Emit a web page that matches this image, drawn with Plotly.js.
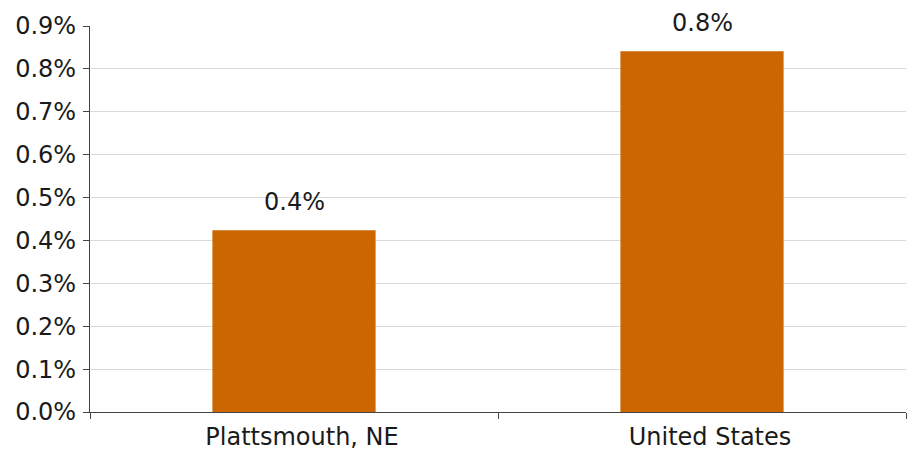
<!DOCTYPE html>
<html>
<head>
<meta charset="utf-8">
<script src="https://cdn.plot.ly/plotly-3.0.1.min.js"></script>
<style>html,body{margin:0;padding:0;background:#fff;}#chart{width:912px;height:450px;}</style>
</head>
<body>
<div id="chart"></div>
<script>
const categories = ["Plattsmouth, NE", "United States"];
const values = [0.424, 0.841];
const labels = ["0.4%", "0.8%"];
const yTickVals = [0, 0.1, 0.2, 0.3, 0.4, 0.5, 0.6, 0.7, 0.8, 0.9];

const font = {family: "DejaVu Sans", size: 24, color: "#1a1a1a"};

const data = [{
  type: "bar",
  x: categories,
  y: values,
  width: 0.4,
  marker: {color: "#CC6600", line: {width: 0}},
  hoverinfo: "none"
}];

const annotations = categories.map((c, i) => ({
  x: c, y: values[i], xref: "x", yref: "y",
  text: labels[i], showarrow: false,
  yanchor: "bottom", yshift: 12,
  font: font
}));

const layout = {
  width: 912, height: 450,
  margin: {l: 90, r: 6, t: 26, b: 38},
  paper_bgcolor: "#fff", plot_bgcolor: "#fff",
  font: font,
  showlegend: false,
  xaxis: {
    type: "category",
    tickson: "boundaries",
    ticks: "outside", ticklen: 6, tickcolor: "#444", tickwidth: 1,
    showline: true, linecolor: "#444", linewidth: 1,
    showgrid: false,
    ticklabelstandoff: 3,
    ticklabelshift: 8,
    tickfont: font
  },
  yaxis: {
    range: [0, 0.9],
    tickvals: yTickVals,
    ticktext: yTickVals.map(v => v.toFixed(1) + "%"),
    ticks: "outside", ticklen: 6, tickcolor: "#444", tickwidth: 1,
    showline: true, linecolor: "#444", linewidth: 1,
    showgrid: true, gridcolor: "#d9d9d9", gridwidth: 1,
    zeroline: false,
    ticklabelstandoff: 2,
    tickfont: font
  },
  annotations: annotations
};

Plotly.newPlot("chart", data, layout, {displayModeBar: false, staticPlot: true});
</script>
</body>
</html>
